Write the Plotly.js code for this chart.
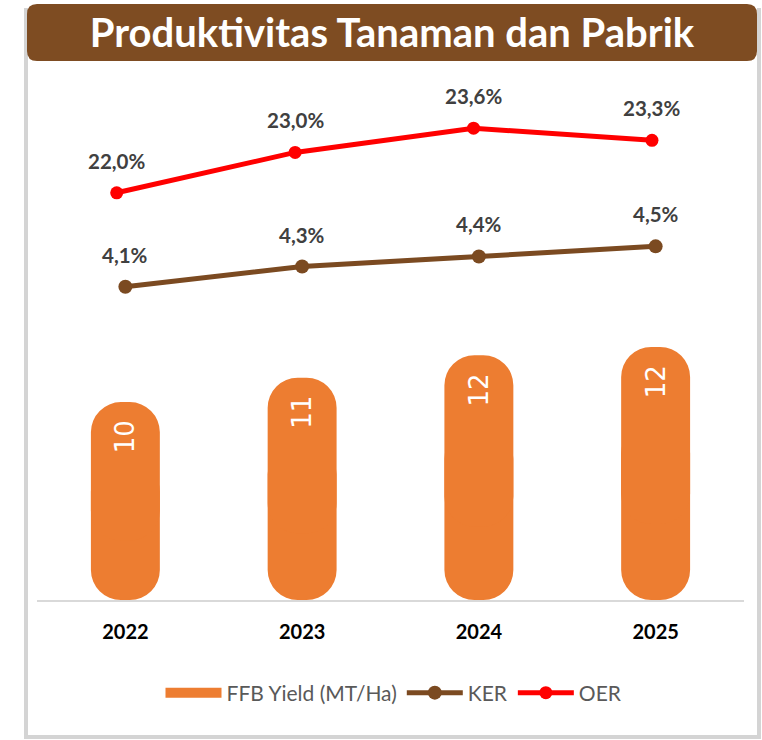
<!DOCTYPE html>
<html><head><meta charset="utf-8">
<script src="https://cdn.plot.ly/plotly-3.0.1.min.js"></script>
<style>html,body{margin:0;padding:0;background:#fff;}#chart{width:762px;height:740px;}</style>
</head><body><div id="chart"></div>
<script>
// ---- data ----
const years = ['2022', '2023', '2024', '2025'];
const ffbYield = [9.7, 10.9, 12.0, 12.4];      // MT/Ha
const ffbLabels = ['10', '11', '12', '12'];
const ker = [4.1, 4.3, 4.4, 4.5];              // %
const oer = [22.0, 23.0, 23.6, 23.3];          // %

// ---- geometry helpers (plot area in px) ----
const W = 762, H = 740;
const L = 37, R = 744, T = 70, B = 600;
const px2x = p => (p - L) / (R - L);
const px2y = p => (B - p) / (B - T);

const orange = '#ED7D31', brown = '#7B4A21', red = '#FF0000';
const font = 'Lato, "Open Sans", sans-serif';

function roundRectPath(x0, y0, x1, y1, r) {
  const X = px2x, Y = px2y;
  return `M ${X(x0 + r)} ${Y(y0)} L ${X(x1 - r)} ${Y(y0)} Q ${X(x1)} ${Y(y0)} ${X(x1)} ${Y(y0 + r)} ` +
    `L ${X(x1)} ${Y(y1 - r)} Q ${X(x1)} ${Y(y1)} ${X(x1 - r)} ${Y(y1)} L ${X(x0 + r)} ${Y(y1)} ` +
    `Q ${X(x0)} ${Y(y1)} ${X(x0)} ${Y(y1 - r)} L ${X(x0)} ${Y(y0 + r)} Q ${X(x0)} ${Y(y0)} ${X(x0 + r)} ${Y(y0)} Z`;
}

const traces = [
  { // lower part of capsule: drawn downward from 0.7*v to 0 (rounded at the bottom)
    type: 'bar', x: years, base: ffbYield.map(v => v * 0.7),
    y: ffbYield.map(v => -v * 0.7),
    marker: { color: orange, cornerradius: 30, line: { width: 0 } },
    showlegend: false, hoverinfo: 'skip', xaxis: 'x', yaxis: 'y'
  },
  { // upper part: from 0.3*v up to v (rounded at the top), carries label
    type: 'bar', name: 'FFB Yield (MT/Ha)', x: years, base: ffbYield.map(v => v * 0.3),
    y: ffbYield.map(v => v * 0.7),
    marker: { color: orange, cornerradius: 30, line: { width: 0 } },
    text: ffbLabels, texttemplate: '%{text}\u2002', textposition: 'inside', insidetextanchor: 'end', textangle: -90,
    constraintext: 'none', showlegend: false,
    textfont: { family: '"DejaVu Sans", sans-serif', size: 26, color: '#ffffff' },
    xaxis: 'x', yaxis: 'y'
  },
  { // legend entry for the bars (its line falls outside the hidden axis range, so only the legend shows)
    type: 'scatter', mode: 'lines', name: 'FFB Yield (MT/Ha)', x: years, y: ffbYield,
    line: { color: orange, width: 12 }, hoverinfo: 'skip', xaxis: 'x', yaxis: 'y4'
  },
  {
    type: 'scatter', mode: 'lines+markers', name: 'KER', x: years, y: ker,
    line: { color: brown, width: 5 }, marker: { color: brown, size: 14 },
    xaxis: 'x', yaxis: 'y2'
  },
  {
    type: 'scatter', mode: 'lines+markers', name: 'OER', x: years, y: oer,
    line: { color: red, width: 5 }, marker: { color: red, size: 13 },
    xaxis: 'x2', yaxis: 'y3'
  }
];

const fmt = v => v.toFixed(1).replace('.', ',') + '%';
const annotations = [];
years.forEach((yr, i) => {
  annotations.push({ x: i, y: ker[i], xref: 'x', yref: 'y2', text: fmt(ker[i]), showarrow: false, yshift: 32,
    font: { family: font, size: 20.5, color: '#404040', weight: 'bold' } });
  annotations.push({ x: i, y: oer[i], xref: 'x2', yref: 'y3', text: fmt(oer[i]), showarrow: false, yshift: 32,
    font: { family: font, size: 20.5, color: '#404040', weight: 'bold' } });
});

const shapes = [
  { type: 'rect', xref: 'paper', yref: 'paper', x0: px2x(24), x1: px2x(761), y0: px2y(8), y1: px2y(739),
    fillcolor: '#d4d4d4', line: { width: 0 }, layer: 'below' },
  { type: 'rect', xref: 'paper', yref: 'paper', x0: px2x(28), x1: px2x(757), y0: px2y(8), y1: px2y(735),
    fillcolor: '#ffffff', line: { width: 0 }, layer: 'below' },
  { type: 'path', xref: 'paper', yref: 'paper', path: roundRectPath(27, 4, 757, 61, 10),
    fillcolor: '#7E4C22', line: { width: 0 }, layer: 'below' }
];

const layout = {
  width: W, height: H,
  margin: { l: L, r: W - R, t: T, b: H - B },
  paper_bgcolor: '#ffffff', plot_bgcolor: 'rgba(0,0,0,0)',
  title: { text: '<b>Produktivitas Tanaman dan Pabrik</b>', xref: 'container', yref: 'container',
    x: 392 / W, y: 1 - 33 / H, xanchor: 'center', yanchor: 'middle',
    font: { family: font, size: 40, color: '#ffffff' } },
  barmode: 'overlay', bargap: 0.61,
  xaxis: { type: 'category', categoryarray: years, range: [-0.5, 3.5], autorange: false,
    showline: true, linecolor: '#d9d9d9', linewidth: 2, ticks: '',
    showgrid: false, zeroline: false, ticklabelstandoff: 13,
    tickfont: { family: font, size: 20, color: '#000000', weight: 'bold' }, fixedrange: true },
  xaxis2: { type: 'category', categoryarray: years, overlaying: 'x', visible: false,
    range: [-0.4467, 3.5157], autorange: false, fixedrange: true },
  yaxis: { range: [0, 25.98], visible: false, showgrid: false, zeroline: false, fixedrange: true },
  yaxis2: { range: [0.998, 6.246], overlaying: 'y', visible: false, fixedrange: true },
  yaxis3: { range: [11.92, 25.04], overlaying: 'y', visible: false, fixedrange: true },
  yaxis4: { range: [100, 200], overlaying: 'y', visible: false, fixedrange: true },
  showlegend: true,
  legend: { orientation: 'h', x: px2x(394), xanchor: 'center', y: px2y(693), yanchor: 'middle',
    font: { family: font, size: 21, color: '#595959' }, bgcolor: 'rgba(0,0,0,0)', itemwidth: 56,
    traceorder: 'normal' },
  annotations: annotations,
  shapes: shapes
};

Plotly.newPlot('chart', traces, layout, { displayModeBar: false, staticPlot: true });
</script></body></html>
